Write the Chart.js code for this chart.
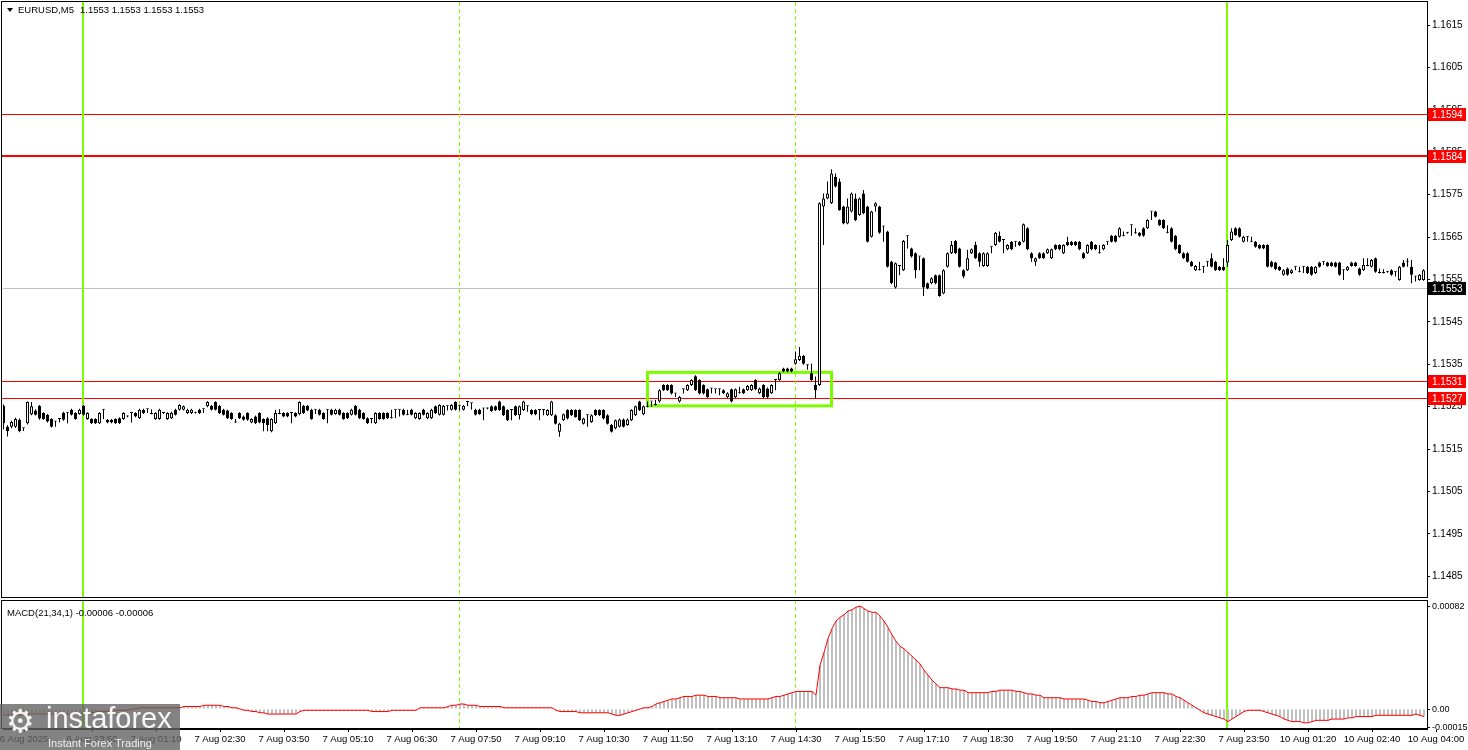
<!DOCTYPE html>
<html>
<head>
<meta charset="utf-8">
<title>EURUSD,M5</title>
<script src="https://cdn.jsdelivr.net/npm/chart.js@4.4.1/dist/chart.umd.min.js"></script>
<style>
  html, body { margin: 0; padding: 0; background: #fff; }
  #wrap { position: relative; width: 1468px; height: 750px; overflow: hidden; background: #fff; }
  #price { position: absolute; left: 0; top: 0; }
  #macd { position: absolute; left: 0; top: 598px; }
  #logo { position: absolute; left: 0; top: 704px; width: 180px; height: 46px; background: rgba(100, 100, 100, 0.8); color: #fff; font-family: 'Liberation Sans', Arial, sans-serif; }
  #logo .gear { position: absolute; left: 6px; top: 0px; font-size: 32px; line-height: 34px; font-family: 'DejaVu Sans', sans-serif; color: #f2f2f2; }
  #logo .brand { position: absolute; left: 46px; top: -2px; font-size: 29px; line-height: 32px; color: #f7f7f7; }
  #logo .tag { position: absolute; left: 48px; top: 33px; font-size: 11px; line-height: 12px; color: #ececec; }
</style>
</head>
<body>
<div id="wrap">
  <canvas id="price" width="1468" height="598"></canvas>
  <canvas id="macd" width="1468" height="152"></canvas>
  <div id="logo"><span class="gear">&#9881;</span><span class="brand">instaforex</span><span class="tag">Instant Forex Trading</span></div>
</div>
<script>
// EURUSD M5 candles, 6 Aug 22:00 .. 10 Aug 03:45 (356 bars)
const opens = [
  1.15252,1.15203,1.15203,1.15203,1.15219,1.15199,1.15211,1.15232,1.15241,1.15252,
  1.15235,1.15231,1.15221,1.15215,1.15221,1.15236,1.15236,1.15243,1.15235,1.15233,
  1.15252,1.15221,1.15221,1.15221,1.15211,1.15243,1.15219,1.15219,1.15221,1.15223,
  1.15221,1.15227,1.15235,1.15235,1.15223,1.15243,1.15244,1.15233,1.15221,1.15221,
  1.15235,1.15221,1.15223,1.15243,1.15243,1.15243,1.15235,1.15235,1.15236,1.15243,
  1.15244,1.15251,1.15252,1.15261,1.15252,1.15243,1.15241,1.15235,1.15213,1.15235,
  1.15227,1.15235,1.15213,1.15227,1.15235,1.15221,1.15223,1.15192,1.15211,1.15233,
  1.15235,1.15235,1.15235,1.15235,1.15232,1.15252,1.15252,1.15243,1.15243,1.15243,
  1.15235,1.15243,1.15243,1.15233,1.15243,1.15235,1.15235,1.15231,1.15252,1.15243,
  1.15235,1.15223,1.15221,1.15211,1.15235,1.15235,1.15235,1.15223,1.15243,1.15243,
  1.15243,1.15231,1.15243,1.15223,1.15221,1.15243,1.15223,1.15223,1.15251,1.15231,
  1.15231,1.15252,1.15243,1.15261,1.15252,1.15243,1.15261,1.15258,1.15243,1.15243,
  1.15246,1.15246,1.15251,1.15251,1.15262,1.15251,1.15242,1.15242,1.15251,1.15230,
  1.15242,1.15251,1.15242,1.15242,1.15242,1.15242,1.15230,1.15230,1.15230,1.15191,
  1.15218,1.15242,1.15242,1.15242,1.15242,1.15210,1.15230,1.15214,1.15242,1.15242,
  1.15242,1.15230,1.15207,1.15199,1.15203,1.15220,1.15207,1.15218,1.15230,1.15262,
  1.15232,1.15250,1.15262,1.15254,1.15262,1.15301,1.15301,1.15301,1.15281,1.15262,
  1.15291,1.15289,1.15301,1.15322,1.15313,1.15301,1.15291,1.15293,1.15291,1.15291,
  1.15289,1.15272,1.15291,1.15272,1.15282,1.15291,1.15289,1.15289,1.15313,1.15282,
  1.15301,1.15293,1.15282,1.15313,1.15313,1.15340,1.15340,1.15340,1.15351,1.15360,
  1.15370,1.15348,1.15329,1.15301,1.15301,1.15722,1.15741,1.15730,1.15792,1.15781,
  1.15722,1.15682,1.15710,1.15741,1.15702,1.15753,1.15722,1.15651,1.15722,1.15722,
  1.15675,1.15663,1.15592,1.15531,1.15582,1.15572,1.15652,1.15623,1.15612,1.15604,
  1.15600,1.15541,1.15541,1.15560,1.15560,1.15517,1.15580,1.15612,1.15641,1.15623,
  1.15572,1.15572,1.15612,1.15631,1.15612,1.15582,1.15582,1.15627,1.15631,1.15653,
  1.15643,1.15621,1.15639,1.15639,1.15639,1.15639,1.15671,1.15612,1.15592,1.15612,
  1.15612,1.15612,1.15600,1.15631,1.15631,1.15612,1.15639,1.15639,1.15639,1.15639,
  1.15612,1.15612,1.15639,1.15631,1.15612,1.15621,1.15639,1.15653,1.15653,1.15651,
  1.15653,1.15660,1.15678,1.15659,1.15660,1.15671,1.15671,1.15710,1.15710,1.15690,
  1.15690,1.15660,1.15671,1.15653,1.15631,1.15612,1.15612,1.15592,1.15572,1.15572,
  1.15580,1.15592,1.15600,1.15592,1.15580,1.15580,1.15590,1.15643,1.15671,1.15671,
  1.15639,1.15651,1.15639,1.15639,1.15631,1.15631,1.15631,1.15592,1.15590,1.15580,
  1.15561,1.15576,1.15565,1.15580,1.15568,1.15580,1.15580,1.15580,1.15565,1.15590,
  1.15592,1.15590,1.15590,1.15590,1.15590,1.15572,1.15572,1.15590,1.15590,1.15576,
  1.15572,1.15582,1.15580,1.15600,1.15565,1.15565,1.15568,1.15572,1.15568,1.15549,
  1.15590,1.15592,1.15580,1.15557,1.15549,1.15549
];
const highs = [
  1.15255,1.15206,1.15217,1.15224,1.15222,1.15200,1.15262,1.15261,1.15244,1.15254,
  1.15237,1.15233,1.15223,1.15216,1.15222,1.15238,1.15237,1.15245,1.15237,1.15245,
  1.15254,1.15237,1.15223,1.15223,1.15237,1.15244,1.15221,1.15221,1.15223,1.15225,
  1.15237,1.15229,1.15236,1.15237,1.15245,1.15245,1.15245,1.15244,1.15237,1.15245,
  1.15237,1.15237,1.15238,1.15245,1.15256,1.15253,1.15245,1.15245,1.15238,1.15245,
  1.15245,1.15263,1.15254,1.15263,1.15254,1.15245,1.15243,1.15237,1.15221,1.15237,
  1.15229,1.15237,1.15223,1.15229,1.15237,1.15223,1.15225,1.15223,1.15243,1.15244,
  1.15237,1.15237,1.15236,1.15237,1.15263,1.15254,1.15254,1.15245,1.15244,1.15245,
  1.15237,1.15244,1.15245,1.15245,1.15245,1.15237,1.15237,1.15245,1.15254,1.15245,
  1.15237,1.15225,1.15222,1.15237,1.15237,1.15237,1.15237,1.15243,1.15244,1.15244,
  1.15245,1.15243,1.15245,1.15237,1.15237,1.15245,1.15237,1.15245,1.15253,1.15256,
  1.15254,1.15253,1.15256,1.15263,1.15253,1.15254,1.15262,1.15259,1.15245,1.15245,
  1.15247,1.15248,1.15253,1.15253,1.15264,1.15253,1.15244,1.15243,1.15253,1.15253,
  1.15264,1.15252,1.15244,1.15244,1.15243,1.15243,1.15244,1.15264,1.15232,1.15212,
  1.15234,1.15244,1.15244,1.15244,1.15244,1.15224,1.15231,1.15232,1.15244,1.15244,
  1.15244,1.15232,1.15209,1.15220,1.15222,1.15222,1.15222,1.15244,1.15253,1.15264,
  1.15253,1.15262,1.15263,1.15266,1.15291,1.15303,1.15303,1.15303,1.15282,1.15275,
  1.15292,1.15303,1.15315,1.15324,1.15315,1.15303,1.15293,1.15294,1.15292,1.15292,
  1.15291,1.15284,1.15293,1.15293,1.15297,1.15293,1.15301,1.15303,1.15315,1.15295,
  1.15303,1.15295,1.15303,1.15314,1.15331,1.15342,1.15342,1.15342,1.15380,1.15391,
  1.15372,1.15349,1.15352,1.15321,1.15732,1.15753,1.15781,1.15810,1.15800,1.15788,
  1.15724,1.15741,1.15755,1.15753,1.15743,1.15761,1.15724,1.15712,1.15732,1.15724,
  1.15676,1.15665,1.15594,1.15590,1.15583,1.15643,1.15653,1.15625,1.15614,1.15605,
  1.15602,1.15543,1.15555,1.15562,1.15562,1.15574,1.15614,1.15641,1.15643,1.15625,
  1.15574,1.15620,1.15623,1.15639,1.15614,1.15614,1.15614,1.15628,1.15662,1.15663,
  1.15644,1.15633,1.15641,1.15640,1.15641,1.15682,1.15673,1.15614,1.15602,1.15614,
  1.15614,1.15623,1.15623,1.15633,1.15633,1.15633,1.15651,1.15641,1.15641,1.15641,
  1.15614,1.15633,1.15641,1.15633,1.15631,1.15633,1.15640,1.15655,1.15655,1.15673,
  1.15663,1.15662,1.15679,1.15671,1.15662,1.15673,1.15692,1.15711,1.15712,1.15692,
  1.15692,1.15678,1.15673,1.15655,1.15633,1.15614,1.15614,1.15594,1.15584,1.15592,
  1.15581,1.15593,1.15612,1.15594,1.15582,1.15600,1.15643,1.15671,1.15673,1.15673,
  1.15653,1.15652,1.15651,1.15641,1.15633,1.15633,1.15633,1.15594,1.15592,1.15582,
  1.15574,1.15578,1.15574,1.15581,1.15580,1.15581,1.15582,1.15582,1.15582,1.15592,
  1.15593,1.15592,1.15592,1.15592,1.15592,1.15573,1.15582,1.15592,1.15592,1.15578,
  1.15600,1.15600,1.15598,1.15602,1.15576,1.15574,1.15570,1.15574,1.15569,1.15582,
  1.15596,1.15600,1.15596,1.15558,1.15563,1.15574
];
const lows = [
  1.15196,1.15180,1.15199,1.15200,1.15190,1.15193,1.15208,1.15230,1.15229,1.15219,
  1.15219,1.15213,1.15201,1.15203,1.15213,1.15217,1.15211,1.15229,1.15219,1.15231,
  1.15229,1.15219,1.15209,1.15209,1.15209,1.15221,1.15211,1.15211,1.15209,1.15209,
  1.15219,1.15225,1.15213,1.15225,1.15221,1.15233,1.15235,1.15232,1.15219,1.15219,
  1.15233,1.15219,1.15221,1.15229,1.15241,1.15241,1.15233,1.15233,1.15234,1.15233,
  1.15235,1.15249,1.15241,1.15241,1.15233,1.15229,1.15221,1.15219,1.15212,1.15221,
  1.15217,1.15217,1.15211,1.15209,1.15211,1.15192,1.15192,1.15190,1.15209,1.15232,
  1.15225,1.15225,1.15211,1.15225,1.15230,1.15233,1.15239,1.15219,1.15233,1.15229,
  1.15219,1.15211,1.15229,1.15231,1.15229,1.15219,1.15221,1.15229,1.15229,1.15221,
  1.15219,1.15209,1.15211,1.15209,1.15219,1.15219,1.15221,1.15222,1.15223,1.15227,
  1.15229,1.15230,1.15229,1.15221,1.15219,1.15229,1.15221,1.15221,1.15233,1.15229,
  1.15229,1.15241,1.15241,1.15241,1.15241,1.15241,1.15251,1.15243,1.15229,1.15231,
  1.15218,1.15244,1.15238,1.15240,1.15240,1.15228,1.15216,1.15218,1.15228,1.15220,
  1.15240,1.15238,1.15230,1.15230,1.15218,1.15230,1.15228,1.15228,1.15208,1.15179,
  1.15216,1.15220,1.15228,1.15224,1.15216,1.15208,1.15203,1.15212,1.15228,1.15228,
  1.15220,1.15208,1.15189,1.15197,1.15201,1.15201,1.15205,1.15216,1.15228,1.15240,
  1.15230,1.15249,1.15250,1.15253,1.15260,1.15287,1.15287,1.15279,1.15273,1.15260,
  1.15281,1.15287,1.15299,1.15287,1.15279,1.15279,1.15271,1.15281,1.15281,1.15277,
  1.15280,1.15270,1.15260,1.15270,1.15281,1.15280,1.15287,1.15287,1.15289,1.15280,
  1.15270,1.15270,1.15280,1.15289,1.15311,1.15331,1.15331,1.15331,1.15349,1.15358,
  1.15349,1.15337,1.15311,1.15270,1.15299,1.15631,1.15739,1.15728,1.15767,1.15712,
  1.15680,1.15680,1.15708,1.15688,1.15700,1.15704,1.15637,1.15649,1.15710,1.15658,
  1.15639,1.15578,1.15539,1.15529,1.15560,1.15570,1.15623,1.15602,1.15553,1.15572,
  1.15511,1.15527,1.15539,1.15539,1.15509,1.15515,1.15578,1.15610,1.15610,1.15578,
  1.15553,1.15570,1.15610,1.15598,1.15580,1.15580,1.15580,1.15612,1.15629,1.15637,
  1.15612,1.15619,1.15619,1.15627,1.15629,1.15637,1.15619,1.15592,1.15582,1.15598,
  1.15598,1.15610,1.15598,1.15619,1.15619,1.15610,1.15629,1.15629,1.15629,1.15619,
  1.15598,1.15610,1.15619,1.15619,1.15611,1.15619,1.15631,1.15637,1.15637,1.15649,
  1.15652,1.15658,1.15653,1.15658,1.15651,1.15651,1.15669,1.15690,1.15696,1.15676,
  1.15669,1.15659,1.15637,1.15619,1.15610,1.15598,1.15590,1.15580,1.15570,1.15571,
  1.15565,1.15580,1.15578,1.15570,1.15570,1.15570,1.15580,1.15641,1.15653,1.15649,
  1.15637,1.15639,1.15638,1.15625,1.15621,1.15621,1.15578,1.15578,1.15572,1.15570,
  1.15559,1.15559,1.15563,1.15572,1.15567,1.15565,1.15563,1.15559,1.15563,1.15578,
  1.15584,1.15580,1.15580,1.15578,1.15559,1.15549,1.15570,1.15580,1.15580,1.15559,
  1.15570,1.15581,1.15578,1.15566,1.15564,1.15564,1.15566,1.15559,1.15557,1.15547,
  1.15578,1.15580,1.15541,1.15545,1.15547,1.15547
];
const closes = [
  1.15211,1.15192,1.15214,1.15221,1.15193,1.15199,1.15261,1.15251,1.15231,1.15222,
  1.15221,1.15215,1.15203,1.15215,1.15221,1.15219,1.15236,1.15231,1.15221,1.15243,
  1.15231,1.15235,1.15211,1.15211,1.15235,1.15243,1.15213,1.15213,1.15211,1.15211,
  1.15235,1.15227,1.15235,1.15227,1.15243,1.15235,1.15244,1.15233,1.15235,1.15243,
  1.15235,1.15235,1.15236,1.15231,1.15254,1.15251,1.15243,1.15243,1.15236,1.15235,
  1.15244,1.15261,1.15243,1.15243,1.15235,1.15231,1.15223,1.15221,1.15213,1.15223,
  1.15219,1.15219,1.15221,1.15211,1.15213,1.15211,1.15207,1.15221,1.15235,1.15233,
  1.15227,1.15227,1.15235,1.15227,1.15261,1.15235,1.15241,1.15221,1.15243,1.15231,
  1.15221,1.15243,1.15231,1.15243,1.15231,1.15221,1.15223,1.15243,1.15231,1.15223,
  1.15221,1.15211,1.15221,1.15235,1.15221,1.15221,1.15223,1.15223,1.15243,1.15243,
  1.15231,1.15231,1.15231,1.15235,1.15235,1.15231,1.15235,1.15243,1.15235,1.15254,
  1.15252,1.15252,1.15254,1.15243,1.15252,1.15252,1.15261,1.15258,1.15231,1.15233,
  1.15246,1.15246,1.15240,1.15242,1.15242,1.15230,1.15218,1.15242,1.15230,1.15251,
  1.15262,1.15251,1.15232,1.15232,1.15242,1.15242,1.15242,1.15262,1.15210,1.15210,
  1.15232,1.15222,1.15230,1.15226,1.15218,1.15222,1.15230,1.15230,1.15230,1.15230,
  1.15222,1.15210,1.15191,1.15218,1.15220,1.15203,1.15220,1.15242,1.15251,1.15242,
  1.15251,1.15250,1.15262,1.15254,1.15289,1.15289,1.15289,1.15281,1.15281,1.15273,
  1.15291,1.15301,1.15313,1.15289,1.15281,1.15281,1.15273,1.15293,1.15291,1.15291,
  1.15282,1.15282,1.15262,1.15291,1.15282,1.15282,1.15299,1.15301,1.15291,1.15293,
  1.15272,1.15272,1.15301,1.15313,1.15329,1.15333,1.15333,1.15333,1.15362,1.15370,
  1.15351,1.15348,1.15313,1.15289,1.15730,1.15741,1.15753,1.15800,1.15769,1.15714,
  1.15682,1.15722,1.15753,1.15690,1.15741,1.15706,1.15639,1.15710,1.15730,1.15660,
  1.15675,1.15580,1.15541,1.15588,1.15582,1.15641,1.15652,1.15604,1.15572,1.15604,
  1.15531,1.15529,1.15553,1.15541,1.15511,1.15572,1.15612,1.15631,1.15612,1.15580,
  1.15557,1.15600,1.15621,1.15600,1.15592,1.15612,1.15612,1.15627,1.15660,1.15639,
  1.15643,1.15631,1.15621,1.15639,1.15631,1.15680,1.15621,1.15600,1.15600,1.15600,
  1.15600,1.15621,1.15621,1.15621,1.15621,1.15631,1.15631,1.15631,1.15631,1.15621,
  1.15600,1.15631,1.15621,1.15621,1.15612,1.15631,1.15639,1.15639,1.15639,1.15671,
  1.15653,1.15660,1.15678,1.15659,1.15653,1.15653,1.15690,1.15710,1.15698,1.15678,
  1.15671,1.15660,1.15639,1.15621,1.15612,1.15600,1.15592,1.15582,1.15582,1.15572,
  1.15580,1.15592,1.15580,1.15572,1.15572,1.15572,1.15631,1.15663,1.15655,1.15651,
  1.15651,1.15651,1.15639,1.15627,1.15623,1.15623,1.15580,1.15580,1.15574,1.15572,
  1.15572,1.15561,1.15572,1.15580,1.15568,1.15580,1.15565,1.15561,1.15580,1.15580,
  1.15592,1.15582,1.15582,1.15580,1.15561,1.15572,1.15580,1.15582,1.15582,1.15561,
  1.15584,1.15582,1.15596,1.15568,1.15565,1.15565,1.15568,1.15561,1.15568,1.15580,
  1.15580,1.15592,1.15561,1.15557,1.15561,1.15572
];

// MACD(21,34,1) main value per bar (signal = main with period 1)
const macd = [
  -0.00005,-0.00005,-0.00005,-0.00005,-0.00005,-0.00004,-0.00004,-0.00004,-0.00004,-0.00004,-0.00004,
  -0.00004,-0.00004,-0.00004,-0.00004,-0.00004,-0.00004,-0.00004,-0.00004,-0.00004,
  -0.00003,-0.00003,-0.00003,-0.00002,-0.00002,-0.00002,-0.00002,-0.00002,-0.00001,-0.00001,-0.00001,-0.00001,0,0,
  0.00001,0.00001,0.00001,0.00001,0.00001,0.00001,0.00001,0.00001,0.00001,0.00001,0.00001,
  0.00002,0.00002,0.00002,0.00002,0.00002,
  0.00003,0.00003,0.00003,0.00003,0.00003,
  0.00002,0.00002,0.00001,0.00001,0,
  -0.00001,-0.00001,-0.00002,-0.00002,-0.00003,-0.00003,-0.00004,
  -0.00004,-0.00004,-0.00004,-0.00004,-0.00004,-0.00004,-0.00004,
  -0.00002,-0.00001,-0.00001,-0.00001,-0.00001,-0.00001,-0.00001,
  -0.00001,-0.00001,-0.00001,-0.00001,-0.00001,-0.00001,-0.00001,-0.00001,-0.00001,-0.00001,-0.00001,
  -0.00002,-0.00002,-0.00002,-0.00002,-0.00002,
  -0.00001,-0.00001,-0.00001,-0.00001,-0.00001,-0.00001,-0.00001,
  0.00001,0.00001,0.00001,0.00001,0.00001,0.00001,0.00001,
  0.00002,0.00003,0.00003,0.00004,0.00004,0.00003,0.00003,0.00003,
  0.00002,0.00002,0.00002,0.00002,0.00002,0.00002,
  0.00001,0.00001,0.00001,0.00001,0.00001,0.00001,0.00001,0.00001,0.00001,0.00001,0.00001,0.00001,0.00001,
  -0.00001,-0.00002,-0.00002,-0.00002,-0.00002,-0.00002,-0.00003,
  -0.00003,-0.00003,-0.00003,-0.00003,-0.00003,-0.00003,-0.00003,
  -0.00004,-0.00005,-0.00005,-0.00004,
  -0.00003,-0.00002,-0.00001,0,0.00001,0.00001,0.00002,
  0.00004,0.00005,0.00006,
  0.00007,0.00008,0.00008,0.00009,0.0001,0.0001,0.0001,
  0.00011,0.00011,0.00011,
  0.0001,0.0001,0.0001,0.00009,0.00009,0.00009,
  0.00009,0.00009,0.00008,0.00008,0.00008,0.00008,0.00008,0.00008,0.00008,0.00008,0.00009,
  0.0001,0.0001,0.00011,0.00012,0.00013,
  0.00014,0.00014,0.00014,0.00014,0.00014,
  0.00011,
  0.00035,0.00045,0.00056,0.00064,0.0007,0.00073,0.00075,0.00078,0.00079,0.00081,0.00082,0.0008,
  0.00078,0.00077,0.00077,0.00074,0.0007,0.00065,0.00059,0.00054,0.0005,0.00048,0.00045,0.00042,0.00039,0.00036,0.00031,0.00027,0.00023,0.0002,0.00017,
  0.00017,0.00017,0.00016,0.00016,0.00015,0.00015,
  0.00013,0.00013,0.00013,0.00013,0.00013,0.00013,
  0.00014,0.00014,0.00015,0.00015,0.00015,0.00015,0.00014,0.00014,
  0.00013,0.00012,0.00012,0.00011,0.00011,
  0.00009,0.00009,0.00009,0.00009,0.00009,0.00008,0.00008,0.00008,0.00008,0.00008,0.00008,0.00007,
  0.00006,0.00006,0.00005,0.00005,0.00006,0.00007,0.00008,
  0.00009,0.00009,0.00009,0.0001,0.0001,0.00011,0.00011,
  0.00012,0.00013,0.00013,0.00013,0.00013,0.00012,0.00012,
  0.0001,0.00009,0.00007,0.00005,0.00003,0.00001,-0.00001,
  -0.00003,-0.00004,-0.00005,-0.00006,-0.00007,-0.00008,-0.0001,
  -0.00008,-0.00006,-0.00004,-0.00002,-0.00001,-0.00001,-0.00001,-0.00001,
  -0.00002,-0.00003,-0.00004,-0.00005,-0.00006,-0.00008,-0.00009,
  -0.0001,-0.0001,-0.0001,-0.00011,-0.00011,-0.0001,
  -0.00009,-0.00009,-0.00009,-0.00009,-0.00008,-0.00008,-0.00008,-0.00008,-0.00007,-0.00007,
  -0.00006,-0.00006,-0.00006,-0.00006,-0.00006,-0.00005,-0.00005,-0.00005,-0.00005,-0.00005,-0.00005,-0.00005,-0.00005,
  -0.00005,-0.00005,-0.00004,-0.00005,-0.00006
];

// axis ticks
const priceTicks = [1.1615, 1.1605, 1.1595, 1.1585, 1.1575, 1.1565, 1.1555, 1.1545, 1.1535, 1.1525, 1.1515, 1.1505, 1.1495, 1.1485];
const macdTicks = [0.00082, 0, -0.00015];
const macdTickLabels = ['0.00082', '0.00', '-0.00015'];
const timeTickBars = [5, 22, 38, 54, 70, 86, 102, 118, 134, 150, 166, 182, 198, 214, 230, 246, 262, 278, 294, 310, 326, 342, 358];
const timeTickLabels = ['6 Aug 2025', '6 Aug 23:50', '7 Aug 01:10', '7 Aug 02:30', '7 Aug 03:50', '7 Aug 05:10', '7 Aug 06:30',
  '7 Aug 07:50', '7 Aug 09:10', '7 Aug 10:30', '7 Aug 11:50', '7 Aug 13:10', '7 Aug 14:30', '7 Aug 15:50', '7 Aug 17:10',
  '7 Aug 18:30', '7 Aug 19:50', '7 Aug 21:10', '7 Aug 22:30', '7 Aug 23:50', '10 Aug 01:20', '10 Aug 02:40', '10 Aug 04:00'];

// chart objects
const symbolTitle = 'EURUSD,M5';
const lastBarText = '1.1553 1.1553 1.1553 1.1553';
const macdTitle = 'MACD(21,34,1) -0.00006 -0.00006';
const levels = [1.1594, 1.1584, 1.1531, 1.1527];
const bidPrice = 1.1553;
const separatorBars = [20, 306];   // solid green lines
const markerBars = [114, 198];     // dashed green lines
const boxBars = [161, 207];
const boxPrices = [1.15331, 1.15252];

const FONT = "'Liberation Sans', Arial, sans-serif";
const GREEN = '#7cfc00';
Chart.defaults.font.family = FONT;

function vLines(chart, top, bottom) {
    let ctx = chart.ctx;
    let x = chart.scales.x;
    ctx.save();
    ctx.fillStyle = GREEN;
    separatorBars.forEach(b => {
        let px = Math.floor(x.getPixelForValue(b) - 0.25);
        ctx.fillRect(px - 1, top, 2, bottom - top);
    });
    ctx.strokeStyle = GREEN;
    ctx.lineWidth = 1;
    ctx.setLineDash([4, 3]);
    markerBars.forEach(b => {
        let px = Math.floor(x.getPixelForValue(b) - 0.25) + 0.5;
        ctx.beginPath();
        ctx.moveTo(px, top);
        ctx.lineTo(px, bottom);
        ctx.stroke();
    });
    ctx.restore();
}

// y axes: fixed width, no extra label padding
function fitRight(s) {
    s.width = 41;
    s.paddingTop = 0;
    s.paddingBottom = 0;
}

const priceDecor = {
    id: 'priceDecor',
    beforeDatasetsDraw(chart) {
        const {ctx, chartArea: a, scales: {x, y}} = chart;
        ctx.save();
        // bid line
        ctx.fillStyle = '#c0c0c0';
        ctx.fillRect(a.left, Math.round(y.getPixelForValue(bidPrice)), a.right - a.left, 1);
        // horizontal levels
        ctx.fillStyle = '#ff0000';
        levels.forEach((lv, k) => {
            let py = Math.round(y.getPixelForValue(lv));
            if (k === 1) ctx.fillRect(a.left - 1, py - 1, a.right - a.left + 1, 2);
            else ctx.fillRect(a.left - 1, py, a.right - a.left + 1, 1);
        });
        ctx.restore();
        vLines(chart, a.top - 1, a.bottom);
        // rectangle around the consolidation
        ctx.save();
        ctx.strokeStyle = GREEN;
        ctx.lineWidth = 3;
        let x1 = x.getPixelForValue(boxBars[0]), x2 = x.getPixelForValue(boxBars[1]);
        let y1 = y.getPixelForValue(boxPrices[0]), y2 = y.getPixelForValue(boxPrices[1]);
        ctx.strokeRect(x1, y1, x2 - x1, y2 - y1);
        ctx.restore();
    },
    afterDraw(chart) {
        const {ctx, chartArea: a, scales: {y}} = chart;
        ctx.save();
        // frame
        ctx.strokeStyle = '#000';
        ctx.lineWidth = 1;
        ctx.strokeRect(1.5, 1.5, a.right - 1, a.bottom - 1);
        // header
        ctx.fillStyle = '#000';
        ctx.beginPath();
        ctx.moveTo(7, 8);
        ctx.lineTo(13, 8);
        ctx.lineTo(10, 12);
        ctx.closePath();
        ctx.fill();
        ctx.font = '9.5px ' + FONT;
        ctx.textBaseline = 'middle';
        ctx.textAlign = 'left';
        ctx.fillText(symbolTitle, 18, 10.5);
        ctx.fillText(lastBarText, 80, 10.5);
        // price labels on the axis
        ctx.font = '10px ' + FONT;
        let tag = (price, bg) => {
            let py = Math.round(y.getPixelForValue(price));
            ctx.fillStyle = bg;
            ctx.fillRect(a.right + 1, py - 6, 38, 13);
            ctx.fillStyle = '#fff';
            ctx.fillText(price.toFixed(4), a.right + 5, py + 1);
        };
        levels.forEach(lv => tag(lv, '#ff0000'));
        tag(bidPrice, '#000');
        ctx.restore();
    }
};

const macdDecor = {
    id: 'macdDecor',
    beforeDatasetsDraw(chart) {
        const a = chart.chartArea;
        vLines(chart, a.top - 1, a.bottom);
    },
    afterDraw(chart) {
        const {ctx, chartArea: a} = chart;
        ctx.save();
        ctx.strokeStyle = '#000';
        ctx.lineWidth = 1;
        ctx.strokeRect(1.5, a.top - 0.5, a.right - 1, a.bottom - a.top);
        ctx.fillStyle = '#000';
        ctx.font = '9.5px ' + FONT;
        ctx.textBaseline = 'middle';
        ctx.fillText(macdTitle, 7, 15);
        ctx.restore();
    }
};

let priceChart = new Chart(document.getElementById('price'), {
    type: 'bar',
    data: {
        datasets: [
            {
                label: 'wick',
                data: lows.map((l, i) => ({x: i, y: [l, highs[i]]})),
                backgroundColor: '#000',
                barThickness: 1,
                inflateAmount: 0,
                grouped: false,
                order: 2
            },
            {
                label: 'body',
                data: opens.map((o, i) => ({x: i, y: [o, closes[i]]})),
                backgroundColor: ctx => closes[ctx.dataIndex] >= opens[ctx.dataIndex] ? '#fff' : '#000',
                borderColor: '#000',
                borderWidth: 1,
                borderSkipped: false,
                barThickness: 3,
                minBarLength: 1,
                inflateAmount: 0,
                grouped: false,
                order: 1
            }
        ]
    },
    options: {
        responsive: false,
        animation: false,
        devicePixelRatio: 1,
        layout: { padding: { left: 3, top: 3, right: 0, bottom: 1 } },
        plugins: { legend: { display: false }, tooltip: { enabled: false } },
        scales: {
            x: { type: 'linear', display: false, offset: false, grid: { offset: false }, min: -0.125, max: 355.875, bounds: 'data' },
            y: {
                position: 'right',
                min: 1.148013,
                max: 1.162019,
                bounds: 'data',
                afterFit: fitRight,
                afterBuildTicks: s => { s.ticks = priceTicks.map(v => ({value: v})); },
                ticks: { callback: v => v.toFixed(4), color: '#000', font: { size: 10 }, padding: 2 },
                grid: { drawOnChartArea: false, tickLength: 3, color: '#000' },
                border: { color: '#000' }
            }
        }
    },
    plugins: [priceDecor]
});

let macdChart = new Chart(document.getElementById('macd'), {
    type: 'bar',
    data: {
        datasets: [
            {
                type: 'line',
                label: 'Signal',
                data: macd.map((v, i) => ({x: i, y: v})),
                borderColor: '#ff0000',
                borderWidth: 1,
                pointRadius: 0,
                tension: 0,
                order: 1
            },
            {
                label: 'MACD',
                data: macd.map((v, i) => ({x: i, y: v})),
                backgroundColor: '#c0c0c0',
                barThickness: 2,
                inflateAmount: 0,
                order: 2
            }
        ]
    },
    options: {
        responsive: false,
        animation: false,
        devicePixelRatio: 1,
        layout: { padding: { left: 3, top: 3, right: 0, bottom: 0 } },
        plugins: { legend: { display: false }, tooltip: { enabled: false } },
        scales: {
            x: {
                type: 'linear',
                offset: false,
                min: -0.25,
                max: 355.75,
                bounds: 'data',
                afterFit: s => { s.height = 21; s.paddingLeft = 0; s.paddingRight = 0; },
                afterBuildTicks: s => { s.ticks = timeTickBars.map(v => ({value: v})); },
                ticks: { callback: (v, i) => timeTickLabels[i], autoSkip: false, maxRotation: 0, color: '#000', font: { size: 9.5 }, padding: 2 },
                grid: { drawOnChartArea: false, offset: false, tickLength: 3, color: '#000' },
                border: { color: '#000' }
            },
            y: {
                position: 'right',
                min: -0.000159,
                max: 0.00086,
                bounds: 'data',
                afterFit: fitRight,
                afterBuildTicks: s => { s.ticks = macdTicks.map(v => ({value: v})); },
                ticks: { callback: (v, i) => macdTickLabels[i], color: '#000', font: { size: 9 }, padding: 2 },
                grid: { drawOnChartArea: false, tickLength: 3, color: '#000' },
                border: { color: '#000' }
            }
        }
    },
    plugins: [macdDecor]
});
</script>
</body>
</html>
